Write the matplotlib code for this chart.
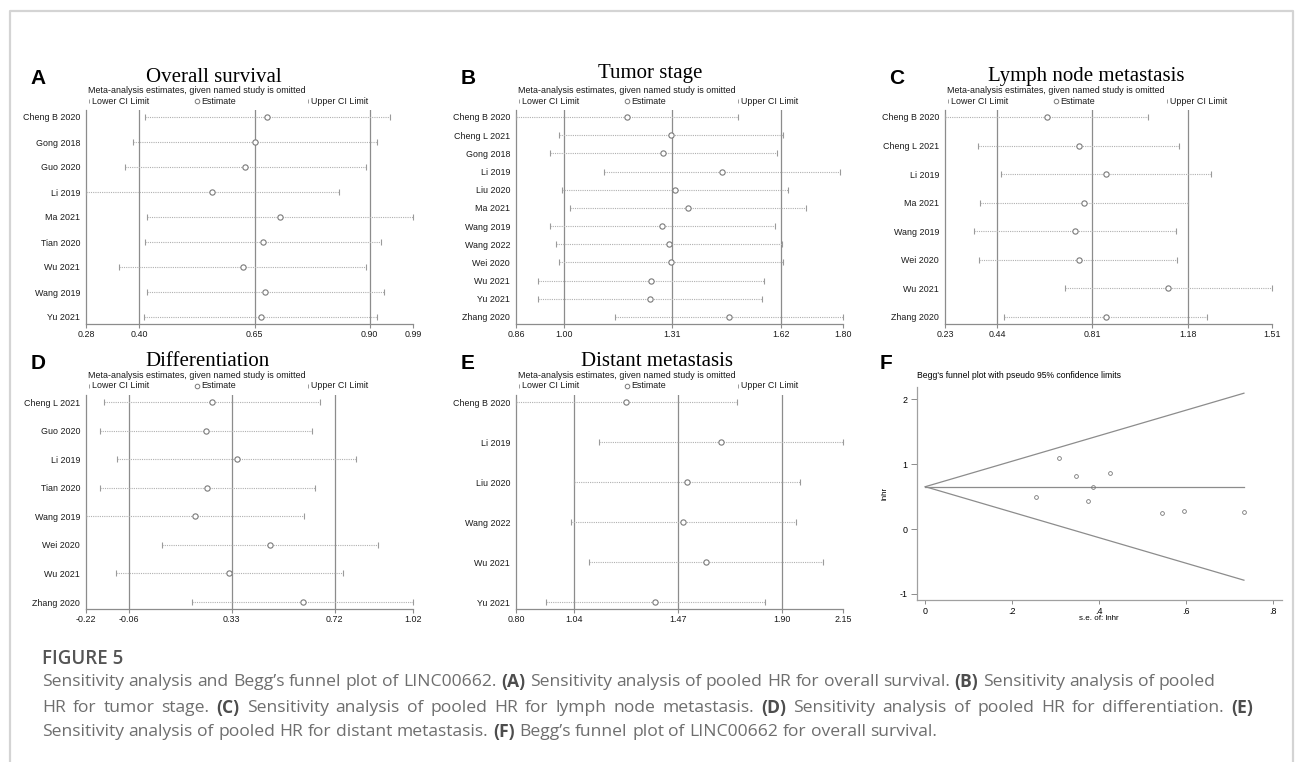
import matplotlib
matplotlib.use('Agg')
import matplotlib.pyplot as plt
from matplotlib.lines import Line2D

W, H = 1295, 762

# ---- A: overall survival
os_studies = ['Cheng B 2020', 'Gong 2018', 'Guo 2020', 'Li 2019', 'Ma 2021',
              'Tian 2020', 'Wu 2021', 'Wang 2019', 'Yu 2021']
os_lower = [0.412, 0.386, 0.368, 0.284, 0.417, 0.412, 0.356, 0.417, 0.409]
os_est = [0.678, 0.650, 0.630, 0.558, 0.706, 0.669, 0.625, 0.673, 0.663]
os_upper = [0.943, 0.916, 0.893, 0.833, 0.994, 0.925, 0.893, 0.931, 0.916]
os_summary = [0.40, 0.65, 0.90]
os_range = [0.284, 0.994]
os_ticklabels = ['0.28', '0.40', '0.65', '0.90', '0.99']

# ---- B: tumor stage
ts_studies = ['Cheng B 2020', 'Cheng L 2021', 'Gong 2018', 'Li 2019', 'Liu 2020',
              'Ma 2021', 'Wang 2019', 'Wang 2022', 'Wei 2020', 'Wu 2021',
              'Yu 2021', 'Zhang 2020']
ts_lower = [0.863, 0.987, 0.959, 1.114, 0.993, 1.018, 0.959, 0.978, 0.987,
            0.927, 0.927, 1.145]
ts_est = [1.179, 1.305, 1.283, 1.452, 1.317, 1.354, 1.280, 1.300, 1.305,
          1.249, 1.245, 1.470]
ts_upper = [1.497, 1.625, 1.608, 1.789, 1.640, 1.690, 1.602, 1.622, 1.625,
            1.571, 1.565, 1.797]
ts_summary = [1.00, 1.31, 1.62]
ts_range = [0.863, 1.797]
ts_ticklabels = ['0.86', '1.00', '1.31', '1.62', '1.80']

# ---- C: lymph node metastasis
ln_studies = ['Cheng B 2020', 'Cheng L 2021', 'Li 2019', 'Ma 2021', 'Wang 2019',
              'Wei 2020', 'Wu 2021', 'Zhang 2020']
ln_lower = [0.239, 0.368, 0.455, 0.376, 0.351, 0.372, 0.703, 0.468]
ln_est = [0.632, 0.756, 0.862, 0.778, 0.742, 0.756, 1.104, 0.862]
ln_upper = [1.026, 1.145, 1.270, 1.180, 1.135, 1.139, 1.505, 1.253]
ln_summary = [0.44, 0.81, 1.18]
ln_range = [0.239, 1.505]
ln_ticklabels = ['0.23', '0.44', '0.81', '1.18', '1.51']

# ---- D: differentiation
dif_studies = ['Cheng L 2021', 'Guo 2020', 'Li 2019', 'Tian 2020', 'Wang 2019',
               'Wei 2020', 'Wu 2021', 'Zhang 2020']
dif_lower = [-0.153, -0.168, -0.103, -0.169, -0.221, 0.067, -0.109, 0.179]
dif_est = [0.254, 0.232, 0.349, 0.237, 0.192, 0.476, 0.320, 0.598]
dif_upper = [0.665, 0.634, 0.800, 0.644, 0.604, 0.884, 0.751, 1.016]
dif_summary = [-0.06, 0.33, 0.72]
dif_range = [-0.221, 1.016]
dif_ticklabels = ['-0.22', '-0.06', '0.33', '0.72', '1.02']

# ---- E: distant metastasis
dm_studies = ['Cheng B 2020', 'Li 2019', 'Liu 2020', 'Wang 2022', 'Wu 2021', 'Yu 2021']
dm_lower = [0.799, 1.145, 1.040, 1.028, 1.102, 0.922]
dm_est = [1.256, 1.648, 1.507, 1.493, 1.586, 1.377]
dm_upper = [1.713, 2.153, 1.975, 1.961, 2.071, 1.832]
dm_summary = [1.04, 1.47, 1.90]
dm_range = [0.799, 2.154]
dm_ticklabels = ['0.80', '1.04', '1.47', '1.90', '2.15']

# ---- F: Begg's funnel plot
begg_se = [0.308, 0.347, 0.425, 0.386, 0.254, 0.375, 0.546, 0.596, 0.734]
begg_lnhr = [1.097, 0.815, 0.856, 0.651, 0.487, 0.436, 0.251, 0.277, 0.267]
begg_theta = 0.651

GRID = '#8c8c8c'
SANS = 'Liberation Sans'
SERIF = 'Liberation Serif'
SMALL = 6.4

fig = plt.figure(figsize=(W / 100, H / 100), dpi=100)


def fx(x):
    return x / W


def fy(y):
    return 1 - y / H


def rect(x0, top, x1, bottom):
    return [fx(x0), fy(bottom), (x1 - x0) / W, (bottom - top) / H]


def forest(x0, top, studies, lower, est, upper, summary, lims, ticklabels,
           title, title_xy, letter):
    bottom = top + 214
    ax = fig.add_axes(rect(x0, top, x0 + 327, bottom))
    n = len(studies)
    y = list(range(n))
    step = (bottom - top - 14) / (n - 1)
    pad = 7 / step
    ax.set_ylim(n - 1 + pad, -pad)
    ax.set_xlim(lims)
    for v in summary:
        ax.axvline(v, color=GRID, lw=0.9, zorder=1)
    ax.hlines(y, lower, upper, colors='#b0b0b0', lw=0.8, linestyles=(0, (1, 1)), zorder=2)
    ax.plot(lower, y, ls='none', marker='|', ms=4.5, mew=0.8, color='#9a9a9a', clip_on=False, zorder=3)
    ax.plot(upper, y, ls='none', marker='|', ms=4.5, mew=0.8, color='#9a9a9a', clip_on=False, zorder=3)
    ax.plot(est, y, ls='none', marker='o', ms=3.8, mfc='white', mec='#7a7a7a', mew=0.8,
            clip_on=False, zorder=4)
    ax.set_yticks(y)
    ax.set_yticklabels(studies, fontsize=SMALL, family=SANS, color='#1a1a1a')
    ax.tick_params(axis='y', length=0, pad=4.3)
    ax.set_xticks([lims[0]] + summary + [lims[1]])
    ax.set_xticklabels(ticklabels, fontsize=SMALL, family=SANS, color='#1a1a1a')
    ax.tick_params(axis='x', length=3, width=0.8, color=GRID, pad=1.6)
    for s in ['top', 'right']:
        ax.spines[s].set_visible(False)
    for s in ['left', 'bottom']:
        ax.spines[s].set_color(GRID)
        ax.spines[s].set_linewidth(0.9)

    # header: letter, title, subtitle, legend
    fig.text(fx(x0 - 48), fy(top - 32), letter, fontsize=15, weight='bold',
             family=SANS, ha='center', va='center')
    fig.text(fx(title_xy[0]), fy(title_xy[1]), title, fontsize=15, family=SERIF,
             ha='center', va='baseline')
    fig.text(fx(x0 + 2), fy(top - 19.5), 'Meta-analysis estimates, given named study is omitted',
             fontsize=SMALL, family=SANS, ha='left', va='center', color='#1a1a1a')
    ly = fy(top - 9)
    for bx, label in [(x0 + 3, 'Lower CI Limit'), (x0 + 222, 'Upper CI Limit')]:
        fig.add_artist(Line2D([fx(bx)], [ly], marker='|', ms=3.5, mew=0.7, color='#9a9a9a',
                              transform=fig.transFigure))
        fig.text(fx(bx + 3), ly, label, fontsize=SMALL, family=SANS, ha='left',
                 va='center', color='#1a1a1a')
    fig.add_artist(Line2D([fx(x0 + 111)], [ly], marker='o', ms=3.3, mfc='white',
                          mec='#7a7a7a', mew=0.7, transform=fig.transFigure))
    fig.text(fx(x0 + 115), ly, 'Estimate', fontsize=SMALL, family=SANS, ha='left',
             va='center', color='#1a1a1a')
    return ax


forest(86, 110, os_studies, os_lower, os_est, os_upper, os_summary, os_range,
       os_ticklabels, 'Overall survival', (214, 82), 'A')
forest(516, 110, ts_studies, ts_lower, ts_est, ts_upper, ts_summary, ts_range,
       ts_ticklabels, 'Tumor stage', (650, 78), 'B')
forest(945, 110, ln_studies, ln_lower, ln_est, ln_upper, ln_summary, ln_range,
       ln_ticklabels, 'Lymph node metastasis', (1086, 81), 'C')
forest(86, 395, dif_studies, dif_lower, dif_est, dif_upper, dif_summary, dif_range,
       dif_ticklabels, 'Differentiation', (208, 366), 'D')
forest(516, 395, dm_studies, dm_lower, dm_est, dm_upper, dm_summary, dm_range,
       dm_ticklabels, 'Distant metastasis', (657, 366), 'E')

# ---- F: funnel plot
axf = fig.add_axes(rect(916.7, 387, 1281.7, 600.3))
se_max = max(begg_se)
axf.plot([0, se_max], [begg_theta, begg_theta + 1.96 * se_max], color=GRID, lw=0.9)
axf.plot([0, se_max], [begg_theta, begg_theta - 1.96 * se_max], color=GRID, lw=0.9)
axf.plot([0, se_max], [begg_theta, begg_theta], color=GRID, lw=0.9)
axf.plot(begg_se, begg_lnhr, ls='none', marker='o', ms=2.7, mfc='none', mec='#777777', mew=0.6)
axf.set_xlim(-0.0198, 0.821)
axf.set_ylim(-1.097, 2.185)
axf.set_xticks([0, 0.2, 0.4, 0.6, 0.8])
axf.set_xticklabels(['0', '.2', '.4', '.6', '.8'], fontsize=SMALL, family=SANS)
axf.set_yticks([-1, 0, 1, 2])
axf.set_yticklabels(['-1', '0', '1', '2'], fontsize=SMALL, family=SANS)
axf.tick_params(axis='y', length=4.3, width=0.7, color=GRID, pad=2.2)
axf.tick_params(axis='x', length=3, width=0.7, color=GRID, pad=1.6)
for s in ['top', 'right']:
    axf.spines[s].set_visible(False)
for s in ['left', 'bottom']:
    axf.spines[s].set_color('#a0a0a0')
    axf.spines[s].set_linewidth(0.9)
fig.text(fx(885), fy(493), 'lnhr', rotation=90, fontsize=5.8, family=SANS,
         ha='center', va='center')
fig.text(fx(1099), fy(619), 's.e. of: lnhr', fontsize=5.8, family=SANS,
         ha='center', va='center')
fig.text(fx(917), fy(375), "Begg's funnel plot with pseudo 95% confidence limits",
         fontsize=6.2, family=SANS, ha='left', va='center')
fig.text(fx(886), fy(363), 'F', fontsize=15, weight='bold', family=SANS,
         ha='center', va='center')

# ---- frame
fig.add_artist(Line2D([fx(10), fx(10), fx(1293), fx(1293)], [0, fy(11), fy(11), 0],
                      color='#d4d4d4', lw=1.6, transform=fig.transFigure))

# ---- caption
CAP = 'Open Sans'
cap_lines = [
    [("Sensitivity analysis and Begg’s funnel plot of LINC00662.", False), ("(A)", True),
     ("Sensitivity analysis of pooled HR for overall survival.", False), ("(B)", True),
     ("Sensitivity analysis of pooled", False)],
    [("HR for tumor stage.", False), ("(C)", True),
     ("Sensitivity analysis of pooled HR for lymph node metastasis.", False), ("(D)", True),
     ("Sensitivity analysis of pooled HR for differentiation.", False), ("(E)", True)],
    [("Sensitivity analysis of pooled HR for distant metastasis.", False), ("(F)", True),
     ("Begg’s funnel plot of LINC00662 for overall survival.", False)],
]
cap_y = [682, 708, 732]
cap_width = [None, 1211, None]
cap_size = 12.6

fig.text(fx(42), fy(659), 'FIGURE 5', fontsize=13.5, weight='semibold', family=CAP,
         color='#555555', ha='left', va='center')

renderer = fig.canvas.get_renderer()


def text_width(s, bold):
    t = fig.text(0, 0, s, fontsize=cap_size, family=CAP, weight='bold' if bold else 'normal')
    w = t.get_window_extent(renderer).width
    t.remove()
    return w


space = text_width('a a', False) - text_width('aa', False)
for segs, yy, width in zip(cap_lines, cap_y, cap_width):
    words = []
    for s, b in segs:
        words += [(w, b) for w in s.split(' ')]
    widths = [text_width(w, b) for w, b in words]
    gap = space if width is None else (width - sum(widths)) / (len(words) - 1)
    x = 42
    for (w, b), ww in zip(words, widths):
        fig.text(fx(x), fy(yy), w, fontsize=cap_size, family=CAP,
                 weight='bold' if b else 'normal',
                 color='#4d4d4d' if b else '#6e6e6e', ha='left', va='center')
        x += ww + gap

fig.savefig('out.png', dpi=100)
